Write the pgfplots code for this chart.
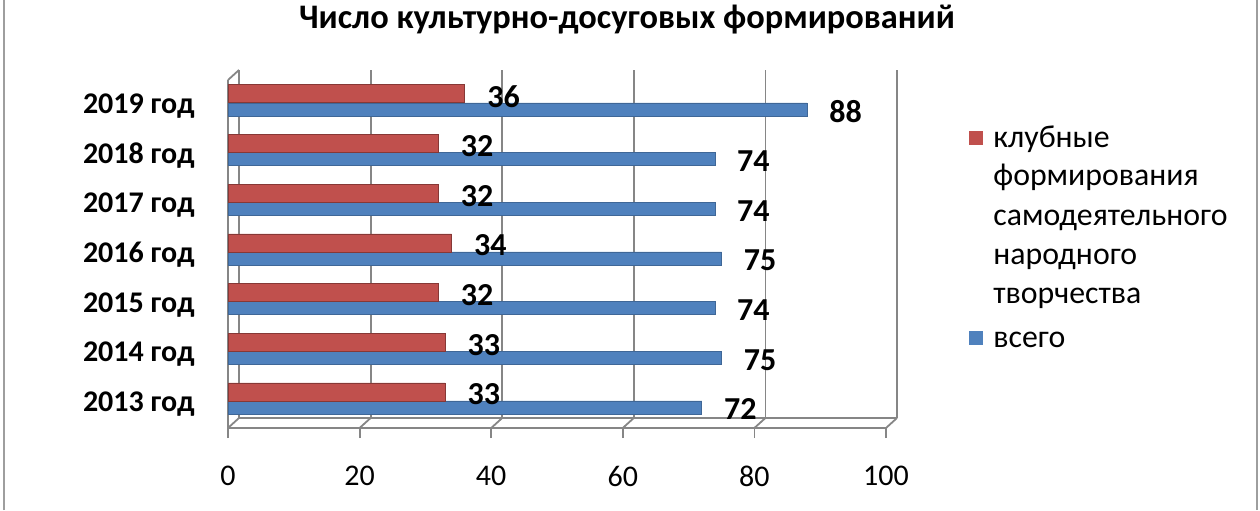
\documentclass[border=0pt]{standalone}
\usepackage{pgfplots}
\pgfplotsset{compat=1.18}
\usepackage{fontspec}
\setmainfont{Carlito}
\definecolor{cred}{RGB}{192,80,77}
\definecolor{cblue}{RGB}{79,129,189}
\definecolor{gridg}{RGB}{134,134,134}
\begin{document}
\begin{tikzpicture}
\useasboundingbox (0,0) rectangle (630pt,255pt);
\fill[white] (0,0) rectangle (630pt,255pt);
\draw[gridg!80, line width=1pt] (1.75pt,0) -- (1.75pt,255pt);
\draw[gridg!80, line width=1pt] (628.5pt,0) -- (628.5pt,255pt);
\node[font=\fontsize{17.2}{20}\selectfont\bfseries] at (313.5pt,245pt) {Число культурно-досуговых формирований};
\begin{axis}[
  at={(114pt,41pt)}, anchor=south west,
  scale only axis, width=329pt, height=174pt,
  xmin=0, xmax=100, ymin=-0.584, ymax=6.42,
  axis x line*=bottom, axis y line*=left,
  axis line style={gridg, line width=0.9pt},
  xtick={0,20,...,100}, ytick={0,...,6},
  yticklabels={2013 год,2014 год,2015 год,2016 год,2017 год,2018 год,2019 год},
  tick align=outside, major tick length=5pt,
  xtick style={gridg, line width=0.9pt},
  ytick style={draw=none},
  xmajorgrids, major grid style={gridg, line width=0.9pt, xshift=5.5pt, yshift=5pt},
  /pgf/number format/assume math mode=true,
  xticklabel style={font=\fontsize{15}{18}\selectfont, inner sep=0pt, anchor=north, yshift=-14pt},
  yticklabel style={font=\fontsize{15}{18}\selectfont\bfseries, inner sep=0pt, anchor=east, xshift=-11.5pt, yshift=-2.5pt},
  clip=false,
  point meta=x,
  nodes near coords,
  every node near coord/.append style={font=\fontsize{16}{19}\selectfont\bfseries, anchor=west, inner sep=0pt, xshift=11pt, text=black},
]
\pgfplotsinvokeforeach{0,20,40,60,80,100}{\draw[gridg, line width=0.9pt] (axis cs:#1,-0.584) -- ++(5.5pt,5pt);}
\draw[gridg, line width=0.9pt] ([xshift=5.5pt,yshift=5pt]axis cs:0,-0.584) -- ([xshift=5.5pt,yshift=5pt]axis cs:100,-0.584);
\draw[gridg, line width=0.9pt] (axis cs:0,6.42) -- ++(5.5pt,5pt);
\addplot[xbar, fill=cblue, draw=cblue!80!black, line width=0.3pt, bar width=6.5pt, bar shift=-4.25pt,
  every node near coord/.append style={yshift=-5.25pt}] coordinates {(72,0) (75,1) (74,2) (75,3) (74,4) (74,5) (88,6)};
\addplot[xbar, fill=cred, draw=cred!70!black, line width=0.4pt, bar width=9pt, bar shift=3.5pt,
  every node near coord/.append style={yshift=2.25pt}] coordinates {(33,0) (33,1) (32,2) (34,3) (32,4) (32,5) (36,6)};
\end{axis}
\fill[cred] (484.5pt,182.5pt) rectangle ++(7pt,7pt);
\fill[cblue] (484.5pt,82.5pt) rectangle ++(7pt,7pt);
\begin{scope}[every node/.style={anchor=base west, inner sep=0pt, font=\fontsize{15.9}{18}\selectfont}]
\node at (496.5pt,181.5pt) {клубные};
\node at (496.5pt,162pt) {формирования};
\node at (496.5pt,142.5pt) {самодеятельного};
\node at (496.5pt,123pt) {народного};
\node at (496.5pt,103.5pt) {творчества};
\node at (496.5pt,81.5pt) {всего};
\end{scope}
\end{tikzpicture}
\end{document}
